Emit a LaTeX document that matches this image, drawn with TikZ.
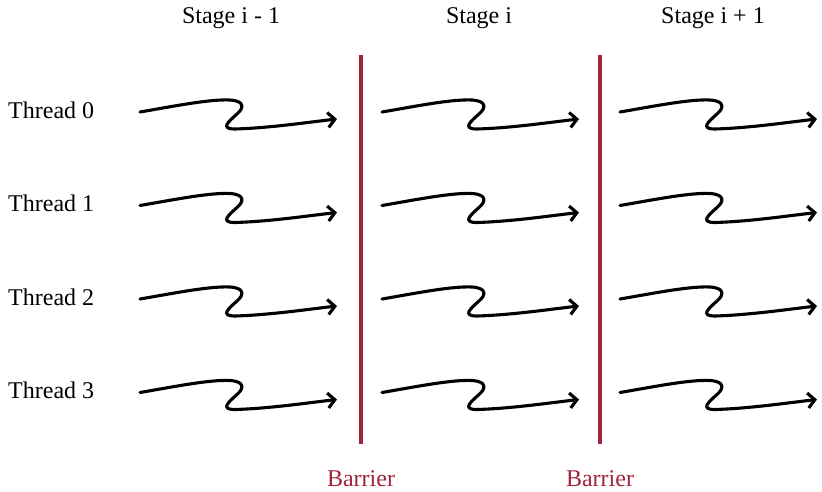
\documentclass[tikz,border=0pt]{standalone}
\usepackage{fontspec}
\setmainfont{Liberation Serif}
\usetikzlibrary{arrows.meta}
\usetikzlibrary{calc}
\usepackage{xcolor}
\definecolor{barrierred}{RGB}{160,36,58}

\tikzset{
  lbl/.style={font=\fontsize{24}{29}\selectfont, inner sep=0pt},
  squiggle/.style={line width=3.1pt, line cap=round, line join=round,
    -{Straight Barb[length=7pt,width=15pt,line width=3.1pt]}},
  barrier/.style={line width=3.2pt, barrierred}
}

\begin{document}
\begin{tikzpicture}[x=1pt,y=-1pt]

      \useasboundingbox (0,0) rectangle (822,491);

      % Stages
      \node[lbl] (stage0) at (231,18) {Stage i - 1};
      \node[lbl] (stage1) at (479,18) {Stage i};
      \node[lbl] (stage2) at (713,18) {Stage i + 1};

      % Barriers
      \foreach \b/\x in {0/361,1/600}
      {
        \coordinate (top\b) at (\x,55);
        \coordinate (bot\b) at (\x,444);
        \draw[barrier] (top\b) -- (bot\b);
        \node[lbl, text=barrierred] (bar\b) at ($(bot\b)+(0,35)$) {Barrier};
      }

      % Threads
      \foreach \r in {0,1,2,3}
      {
        \node[lbl, anchor=base west] (thread\r) at (8,118+93.5*\r) {Thread \r};
        \foreach \c/\x in {0/140,1/382,2/620}
        {
          \coordinate (s\r\c) at (\x,112+93.5*\r);
          \draw[squiggle] (s\r\c)
            .. controls ($(s\r\c)+(35,-6)$) and ($(s\r\c)+(70,-13)$) .. ($(s\r\c)+(90,-12)$)
            .. controls ($(s\r\c)+(105,-11)$) and ($(s\r\c)+(104,-4)$) .. ($(s\r\c)+(97,2)$)
            .. controls ($(s\r\c)+(88,10)$) and ($(s\r\c)+(80,17)$) .. ($(s\r\c)+(95,17)$)
            .. controls ($(s\r\c)+(130,16)$) and ($(s\r\c)+(170,10)$) .. ($(s\r\c)+(197,7)$);
        }
      }

\end{tikzpicture}
\end{document}
